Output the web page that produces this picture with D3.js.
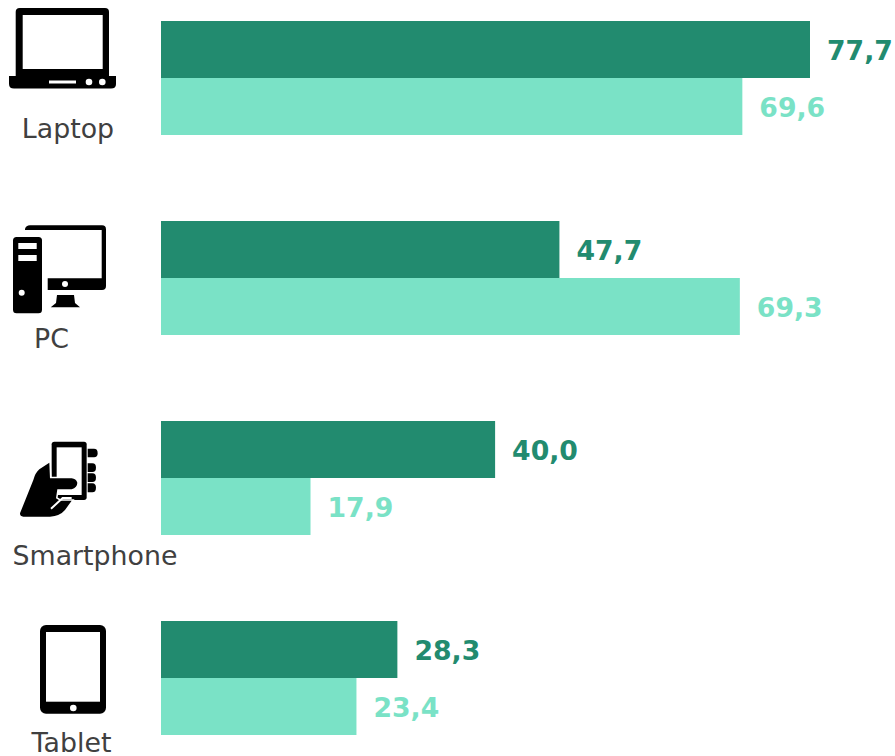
<!DOCTYPE html>
<html>
<head>
<meta charset="utf-8">
<script src="https://d3js.org/d3.v7.min.js"></script>
<style>
	html, body { margin: 0; padding: 0; background: #fff; }
	svg { display: block; }
	text { font-family: "DejaVu Sans", sans-serif; }
</style>
</head>
<body>
<div id="chart"></div>
<script>
var categories = ["Laptop", "PC", "Smartphone", "Tablet"];
var seriesNames = ["first", "second"];
var firstValues = [77.7, 47.7, 40.0, 28.3];
var secondValues = [69.6, 69.3, 17.9, 23.4];

var width = 895, height = 756;
var colors = { first: "#228b6f", second: "#7ae2c6" };

// where each caption sits
var captions = {
	Laptop: { x: 68, y: 137.5 },
	PC: { x: 51.5, y: 347.5 },
	Smartphone: { x: 95, y: 565 },
	Tablet: { x: 71.5, y: 751.5 }
};

var svg = d3.select("#chart").append("svg")
	.attr("width", width)
	.attr("height", height);

var x = d3.scaleLinear().domain([0, 77.7]).range([161, 810]);
var y = d3.scaleBand().domain(categories).range([21, 735]).paddingInner(0.43);
var ySeries = d3.scaleBand().domain(seriesNames).range([0, y.bandwidth()]);
var fmt = d3.formatLocale({ decimal: ",", thousands: ".", grouping: [3], currency: ["", ""] }).format(".1f");

var rows = categories.map(function (c, i) {
	return { category: c, first: firstValues[i], second: secondValues[i] };
});

var groups = svg.selectAll("g.row")
	.data(rows)
	.enter()
	.append("g")
	.attr("class", "row")
	.attr("transform", function (d) { return "translate(0," + y(d.category) + ")"; });

seriesNames.forEach(function (s) {
	groups.append("rect")
		.attr("x", x(0))
		.attr("y", ySeries(s))
		.attr("width", function (d) { return x(d[s]) - x(0); })
		.attr("height", ySeries.bandwidth())
		.attr("fill", colors[s]);

	groups.append("text")
		.attr("x", function (d) { return x(d[s]) + 17; })
		.attr("y", ySeries(s) + ySeries.bandwidth() / 2)
		.attr("dy", "0.38em")
		.attr("font-size", 26.7)
		.attr("font-weight", "bold")
		.attr("fill", colors[s])
		.text(function (d) { return fmt(d[s]); });
});

svg.selectAll("text.caption")
	.data(categories)
	.enter()
	.append("text")
	.attr("class", "caption")
	.attr("x", function (d) { return captions[d].x; })
	.attr("y", function (d) { return captions[d].y; })
	.attr("text-anchor", "middle")
	.attr("font-size", 26.8)
	.attr("fill", "#404040")
	.text(function (d) { return d; });

drawLaptop(svg.append("g"));
drawPc(svg.append("g"));
drawPhone(svg.append("g"));
drawTablet(svg.append("g"));

function box(g, x0, y0, x1, y1, r, fill) {
	g.append("rect").attr("x", x0).attr("y", y0)
		.attr("width", x1 - x0).attr("height", y1 - y0)
		.attr("rx", r).attr("fill", fill);
}

function dot(g, cx, cy, r, fill) {
	g.append("circle").attr("cx", cx).attr("cy", cy).attr("r", r).attr("fill", fill);
}

function drawLaptop(g) {
	box(g, 15.7, 8, 109, 80, 4, "#000");
	box(g, 22.7, 15, 102.7, 69, 0, "#fff");
	g.append("path").attr("fill", "#000")
		.attr("d", "M9,76H116V84Q116,88.5,111,88.5H14Q9,88.5,9,84Z");
	box(g, 49, 80.5, 76, 83.5, 0, "#fff");
	dot(g, 89, 82, 3.3, "#fff");
	dot(g, 102.3, 82, 3.3, "#fff");
}

function drawPc(g) {
	g.append("path").attr("fill", "#000").attr("fill-rule", "evenodd")
		.attr("d", "M25,229Q26,225.3,30,225.3H102Q106,225.3,106,229.5V286Q106,290,102,290H47.7V278.3H101.7V230H25Z");
	dot(g, 65, 284, 3, "#fff");
	g.append("path").attr("fill", "#000")
		.attr("d", "M57,295H74L75,303L80,307.3H50.7L56,303Z");
	box(g, 13, 237, 42, 313.3, 3.5, "#000");
	box(g, 18.3, 243, 36.7, 249, 0, "#fff");
	box(g, 18.3, 255, 36.7, 261, 0, "#fff");
	dot(g, 21.7, 292.7, 3, "#fff");
}

function drawPhone(g) {
	// drawn in the 3x units of the crop, easier to trace the hand
	var h = g.attr("transform", "translate(0,430) scale(0.3333)");
	box(h, 155, 35, 260, 210, 8, "#000");
	box(h, 170, 52, 245, 195, 0, "#fff");
	var fingers = [[56, 82, 293], [100, 126, 288], [130, 156, 288], [160, 187, 288]];
	fingers.forEach(function (f) {
		var mid = (f[0] + f[1]) / 2;
		h.append("path").attr("fill", "#000")
			.attr("d", "M263," + f[0] + "H" + (f[2] - 11) + "Q" + f[2] + "," + f[0] + " " + f[2] + "," + mid +
				"Q" + f[2] + "," + f[1] + " " + (f[2] - 11) + "," + f[1] + "H263Z");
	});
	var hand = "M148,98L118,118Q106,128,100,150L60,250Q60,260,70,260H150Q180,258,195,240L215,212H180L168,205L172,178H215Q232,172,232,158Q228,146,215,145H150Z";
	h.append("path").attr("d", hand).attr("fill", "#000").attr("stroke", "#fff").attr("stroke-width", 9).attr("paint-order", "stroke");
	h.append("path").attr("d", "M153,236L188,204H215").attr("fill", "none").attr("stroke", "#fff").attr("stroke-width", 6);
}

function drawTablet(g) {
	box(g, 40, 625, 106, 713.7, 6, "#000");
	box(g, 46, 632, 100, 701.7, 0, "#fff");
	dot(g, 73.3, 708, 3.3, "#fff");
}
</script>
</body>
</html>
